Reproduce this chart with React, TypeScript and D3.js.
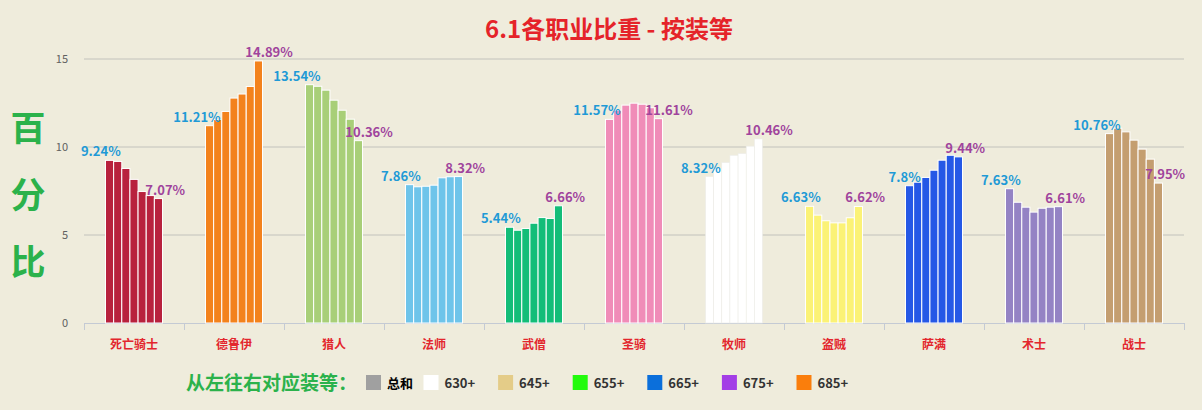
import React, { useRef, useEffect } from 'react';
import * as d3 from 'd3';

// class names on the x axis
const classes = ['死亡骑士', '德鲁伊', '猎人', '法师', '武僧', '圣骑', '牧师', '盗贼', '萨满', '术士', '战士'];

// item level tiers, left to right inside each class group
const tiers = ['总和', '630+', '645+', '655+', '665+', '675+', '685+'];

// percentage per tier, one array per class
const deathKnight = [9.24, 9.18, 8.78, 8.16, 7.47, 7.24, 7.07];
const druid = [11.21, 11.56, 12.02, 12.78, 13.01, 13.44, 14.89];
const hunter = [13.54, 13.45, 13.23, 12.66, 12.09, 11.58, 10.36];
const mage = [7.86, 7.74, 7.77, 7.83, 8.25, 8.31, 8.32];
const monk = [5.44, 5.27, 5.37, 5.67, 5.99, 5.94, 6.66];
const paladin = [11.57, 12.09, 12.38, 12.49, 12.43, 12.23, 11.61];
const priest = [8.32, 8.78, 9.12, 9.53, 9.63, 10.05, 10.46];
const rogue = [6.63, 6.13, 5.81, 5.69, 5.69, 5.98, 6.62];
const shaman = [7.8, 8.0, 8.27, 8.68, 9.25, 9.53, 9.44];
const warlock = [7.63, 6.86, 6.58, 6.3, 6.52, 6.58, 6.61];
const warrior = [10.76, 11.07, 10.86, 10.39, 9.88, 9.31, 7.95];

const yTicks = [0, 5, 10, 15];

const classColors = ['#b8213d', '#f3821c', '#a8cf78', '#6ec4ea', '#13bd78', '#f08cb8', '#ffffff', '#fbf276', '#2558e6', '#9483c4', '#c49e70'];
const tierColors = ['#a0a0a0', '#ffffff', '#e4cc88', '#22fb0c', '#0b6fdb', '#a33ee6', '#fa7e0c'];

export default function App() {
  const svgRef = useRef<SVGSVGElement>(null);

  useEffect(() => {
    if (!svgRef.current) return;
    const svg = d3.select(svgRef.current);
    svg.selectAll('*').remove();

    const width = 1202;
    const height = 410;
    const font = '"Noto Sans CJK SC", "Noto Sans", sans-serif';
    const values = [deathKnight, druid, hunter, mage, monk, paladin, priest, rogue, shaman, warlock, warrior];

    svg.append('rect').attr('width', width).attr('height', height).attr('fill', '#efecdc');

    const x = d3.scaleBand<string>().domain(classes).range([84, 1184]).padding(0);
    const groupWidth = 57;
    const inner = d3.scaleBand<string>().domain(tiers).range([0, groupWidth]).padding(0);
    const y = d3.scaleLinear().domain([0, 15]).range([323, 59]);

    // gridlines
    svg.append('g')
      .selectAll('line')
      .data(yTicks.filter(t => t > 0))
      .join('line')
      .attr('x1', 84).attr('x2', 1184)
      .attr('y1', d => y(d)).attr('y2', d => y(d))
      .attr('stroke', '#c2c2bc').attr('stroke-width', 1);

    // y tick labels
    svg.append('g')
      .selectAll('text')
      .data(yTicks)
      .join('text')
      .attr('x', 68).attr('y', d => y(d) + 4)
      .attr('text-anchor', 'end')
      .attr('font-family', font).attr('font-size', 11)
      .attr('fill', '#606060')
      .text(d => d);

    // x axis line + tick marks between categories
    svg.append('line')
      .attr('x1', 84).attr('x2', 1184).attr('y1', 323.5).attr('y2', 323.5)
      .attr('stroke', '#c4cad4');
    const bounds = classes.map(c => x(c)!).concat([x.range()[1]]);
    svg.append('g')
      .selectAll('line')
      .data(bounds)
      .join('line')
      .attr('x1', d => d + 0.5).attr('x2', d => d + 0.5)
      .attr('y1', 323).attr('y2', 330)
      .attr('stroke', '#c4cad4');

    // bars
    classes.forEach((c, ci) => {
      const x0 = x(c)! + (x.bandwidth() - groupWidth) / 2;
      const g = svg.append('g').attr('transform', `translate(${x0},0)`);
      const white = classColors[ci] === '#ffffff';
      g.selectAll('rect')
        .data(values[ci])
        .join('rect')
        .attr('x', (_, i) => inner(tiers[i])!)
        .attr('y', d => y(d))
        .attr('width', inner.bandwidth())
        .attr('height', d => y(0) - y(d))
        .attr('fill', classColors[ci])
        .attr('stroke', white ? '#ecece6' : '#ffffff')
        .attr('stroke-width', white ? 0.6 : 1);

      const first = values[ci][0];
      const last = values[ci][values[ci].length - 1];
      g.append('text')
        .attr('x', inner(tiers[0])! + inner.bandwidth() + 7)
        .attr('y', y(first) - 4)
        .attr('text-anchor', 'end')
        .attr('font-family', font).attr('font-size', 13).attr('font-weight', 'bold')
        .attr('fill', '#1f9ad6')
        .text(`${first}%`);
      g.append('text')
        .attr('x', inner(tiers[tiers.length - 1])! - 9)
        .attr('y', y(last) - 4)
        .attr('text-anchor', 'start')
        .attr('font-family', font).attr('font-size', 13).attr('font-weight', 'bold')
        .attr('fill', '#a0449c')
        .text(`${last}%`);
    });

    // category labels
    svg.append('g')
      .selectAll('text')
      .data(classes)
      .join('text')
      .attr('x', d => x(d)! + x.bandwidth() / 2)
      .attr('y', 349)
      .attr('text-anchor', 'middle')
      .attr('font-family', font).attr('font-size', 12).attr('font-weight', 'bold')
      .attr('fill', '#e3262d')
      .text(d => d);

    // title
    svg.append('text')
      .attr('x', 609).attr('y', 38)
      .attr('text-anchor', 'middle')
      .attr('font-family', font).attr('font-size', 24).attr('font-weight', 'bold')
      .attr('fill', '#e52329')
      .text('6.1各职业比重 - 按装等');

    // vertical y label
    const yLabel = ['百', '分', '比'];
    svg.append('g')
      .selectAll('text')
      .data(yLabel)
      .join('text')
      .attr('x', 28)
      .attr('y', (_, i) => 141 + i * 67)
      .attr('text-anchor', 'middle')
      .attr('font-family', font).attr('font-size', 35).attr('font-weight', 'bold')
      .attr('fill', '#2bb24b')
      .text(d => d);

    // legend
    svg.append('text')
      .attr('x', 186).attr('y', 390)
      .attr('font-family', font).attr('font-size', 19).attr('font-weight', 'bold')
      .attr('fill', '#2bb24b')
      .text('从左往右对应装等：');

    const legendX = (i: number) => (i === 0 ? 366 : 423.5 + (i - 1) * 74.6);
    const items = svg.append('g')
      .selectAll('g')
      .data(tiers)
      .join('g')
      .attr('transform', (_, i) => `translate(${legendX(i)},375)`);
    items.append('rect')
      .attr('width', 15).attr('height', 15)
      .attr('fill', (_, i) => tierColors[i]);
    items.append('text')
      .attr('x', 21).attr('y', 13)
      .attr('font-family', font).attr('font-size', 13).attr('font-weight', 'bold')
      .attr('fill', (_, i) => (i === 0 ? '#000' : '#333'))
      .text(d => d);
  }, []);

  return (
    <div style={{ position: 'fixed', left: 0, top: 0 }}>
      <svg ref={svgRef} width={1202} height={410} style={{ display: 'block' }} />
    </div>
  );
}
